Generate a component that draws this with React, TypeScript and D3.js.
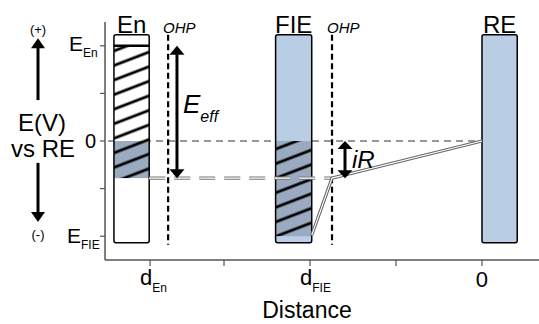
import React from "react";
import { scaleLinear, line } from "d3";

// axis ticks
const xTickValues = [-3.86, -3, -2, -1, 0];
const xTickMain = ["d", "", "d", "", "0"];
const xTickSub = ["En", "", "FIE", "", ""];
const yTickValues = [2, 1, 0, -1, -2];
const yTickMain = ["E", "", "0", "", "E"];
const yTickSub = ["En", "", "", "", "FIE"];

// electrodes (bars)
const electrodeNames = ["En", "FIE", "RE"];
const barLeft = [-4.28, -2.4, 0];
const barRight = [-3.87, -1.98, 0.41];
const barTop = 2.23;
const barBottom = -2.14;
const barFill = ["#ffffff", "#b9cde4", "#b9cde4"];

// charged (shaded) and hatched regions per electrode
const shadeTop = [0, 0];
const shadeBottom = [-0.78, -2];
const hatchTop = [2, 0];
const hatchBottom = [-0.78, -2];

// outer Helmholtz planes
const ohpX = [-3.65, -1.744];

// potential profile
const enLevel = -0.78;
const enLevelX = [-3.87, -1.744];
const profileX = [-1.98, -1.744, 0];
const profileY = [-1.98, -0.78, 0];

// annotations
const eeffX = -3.547;
const eeffRange = [2, -0.78];
const irX = -1.593;
const irRange = [0, -0.78];

const W = 539;
const H = 324;
const FONT = "'Liberation Sans', Arial, sans-serif";

const x = scaleLinear().domain([-4.384, 0.663]).range([105, 539]);
const y = scaleLinear().domain([-2.5, 2.5]).range([260, 22]);

function Arrow({ cx, y1, y2, head = 15, headH = 9, width = 3 }) {
  // double headed vertical arrow between two tips
  const dir = y2 > y1 ? 1 : -1;
  return (
    <g>
      <line
        x1={cx}
        x2={cx}
        y1={y1 + dir * (headH - 1)}
        y2={y2 - dir * (headH - 1)}
        stroke="#000"
        strokeWidth={width}
      />
      <polygon
        points={`${cx},${y1} ${cx - head / 2},${y1 + dir * headH} ${cx + head / 2},${y1 + dir * headH}`}
        fill="#000"
      />
      <polygon
        points={`${cx},${y2} ${cx - head / 2},${y2 - dir * headH} ${cx + head / 2},${y2 - dir * headH}`}
        fill="#000"
      />
    </g>
  );
}

function SingleArrow({ cx, from, to, head = 14, headH = 10, width = 3 }) {
  const dir = to > from ? 1 : -1;
  return (
    <g>
      <line x1={cx} x2={cx} y1={from} y2={to - dir * (headH - 1)} stroke="#000" strokeWidth={width} />
      <polygon
        points={`${cx},${to} ${cx - head / 2},${to - dir * headH} ${cx + head / 2},${to - dir * headH}`}
        fill="#000"
      />
    </g>
  );
}

export default function App() {
  const profileLine = line<number>()
    .x((d, i) => x(profileX[i]))
    .y((d) => y(d));
  const profilePath = profileLine(profileY) || "";
  const levelPath = `M${x(enLevelX[0])},${y(enLevel)}H${x(enLevelX[1])}`;

  return (
    <svg
      width={W}
      height={H}
      style={{ position: "absolute", left: 0, top: 0, background: "#fff" }}
      fontFamily={FONT}
    >
      <defs>
        <pattern
          id="hatch"
          patternUnits="userSpaceOnUse"
          width={8}
          height={13.6}
          patternTransform="rotate(-21)"
        >
          <line x1={0} x2={8} y1={6.8} y2={6.8} stroke="#000" strokeWidth={2.8} />
        </pattern>
        {hatchTop.map((t, i) => (
          <clipPath id={`clip${i}`} key={i}>
            <rect
              x={x(barLeft[i])}
              y={y(t)}
              width={x(barRight[i]) - x(barLeft[i])}
              height={y(hatchBottom[i]) - y(t)}
            />
          </clipPath>
        ))}
      </defs>

      {/* left annotation: E(V) vs RE */}
      <text x={38} y={34} fontSize={13} textAnchor="middle">(+)</text>
      <SingleArrow cx={38} from={y(0.86)} to={y(2.16)} />
      <text x={42} y={131} fontSize={24} textAnchor="middle">E(V)</text>
      <text x={43} y={157} fontSize={24} textAnchor="middle">vs RE</text>
      <SingleArrow cx={38} from={y(-0.46)} to={y(-1.7)} />
      <text x={38} y={239} fontSize={13} textAnchor="middle">(-)</text>

      {/* axes */}
      <line x1={105} x2={105} y1={22} y2={260} stroke="#555" strokeWidth={1.5} />
      <line x1={105} x2={539} y1={260} y2={260} stroke="#555" strokeWidth={1.5} />
      {yTickValues.map((v, i) => (
        <g key={`yt${i}`}>
          <line x1={100} x2={105} y1={y(v)} y2={y(v)} stroke="#555" strokeWidth={1.2} />
          {yTickMain[i] === "0" ? (
            <text x={96} y={y(v) + 7} fontSize={20} textAnchor="end">0</text>
          ) : yTickMain[i] ? (
            <text x={yTickSub[i] === "FIE" ? 67 : 69} y={y(v) + (yTickSub[i] === "FIE" ? 7 : 5)} fontSize={21}>
              {yTickMain[i]}
              <tspan fontSize={12} dy={6}>{yTickSub[i]}</tspan>
            </text>
          ) : null}
        </g>
      ))}
      {xTickValues.map((v, i) => (
        <g key={`xt${i}`}>
          <line x1={x(v)} x2={x(v)} y1={260} y2={266} stroke="#555" strokeWidth={1.2} />
          {xTickMain[i] === "0" ? (
            <text x={x(v)} y={287} fontSize={22} textAnchor="middle">0</text>
          ) : xTickMain[i] ? (
            <text x={x(v) - 10} y={285} fontSize={22}>
              {xTickMain[i]}
              <tspan fontSize={12} dy={7}>{xTickSub[i]}</tspan>
            </text>
          ) : null}
        </g>
      ))}
      <text x={307} y={318} fontSize={23} textAnchor="middle">Distance</text>

      {/* zero potential reference */}
      <line
        x1={108}
        x2={x(0.3)}
        y1={y(0)}
        y2={y(0)}
        stroke="#777"
        strokeWidth={1.5}
        strokeDasharray="7,5"
      />

      {/* electrodes */}
      {electrodeNames.map((name, i) => {
        const bx = x(barLeft[i]);
        const bw = x(barRight[i]) - bx;
        return (
          <g key={name}>
            <rect
              x={bx}
              y={y(barTop)}
              width={bw}
              height={y(barBottom) - y(barTop)}
              fill={barFill[i]}
            />
            {i < 2 && (
              <rect
                x={bx}
                y={y(shadeTop[i])}
                width={bw}
                height={y(shadeBottom[i]) - y(shadeTop[i])}
                fill="#9aabc1"
              />
            )}
            {i < 2 && (
              <rect
                x={bx}
                y={y(hatchTop[i])}
                width={bw}
                height={y(hatchBottom[i]) - y(hatchTop[i])}
                fill="url(#hatch)"
                clipPath={`url(#clip${i})`}
              />
            )}
            {i === 0 && (
              <line x1={bx} x2={bx + bw} y1={y(hatchTop[i])} y2={y(hatchTop[i])} stroke="#000" strokeWidth={2.6} />
            )}
            <rect
              x={bx}
              y={y(barTop)}
              width={bw}
              height={y(barBottom) - y(barTop)}
              fill="none"
              stroke="#000"
              strokeWidth={1.5}
              rx={2}
            />
            <text x={bx + bw / 2} y={33} fontSize={24} textAnchor="middle">
              {name}
            </text>
          </g>
        );
      })}

      {/* OHP planes */}
      {ohpX.map((v, i) => (
        <g key={`ohp${i}`}>
          <line
            x1={x(v)}
            x2={x(v)}
            y1={y(barTop)}
            y2={y(-2.18)}
            stroke="#000"
            strokeWidth={2.2}
            strokeDasharray="6,3.5"
          />
          <text x={x(v) - 5} y={33} fontSize={15} fontStyle="italic">OHP</text>
        </g>
      ))}

      {/* potential of En (dashed double line) */}
      <path d={levelPath} stroke="#777" strokeWidth={3.4} fill="none" strokeDasharray="16,9" />
      <path d={levelPath} stroke="#fff" strokeWidth={1.1} fill="none" strokeDasharray="16,9" />

      {/* potential profile (solid double line) */}
      <path d={profilePath} stroke="#666" strokeWidth={3.2} fill="none" strokeLinejoin="round" />
      <path d={profilePath} stroke="#fff" strokeWidth={1.1} fill="none" strokeLinejoin="round" />

      {/* Eeff arrow */}
      <Arrow cx={x(eeffX)} y1={y(eeffRange[0])} y2={y(eeffRange[1])} />
      <text x={x(eeffX) + 6} y={113} fontSize={26} fontStyle="italic">
        E<tspan fontSize={16} dy={9}>eff</tspan>
      </text>

      {/* iR arrow */}
      <Arrow cx={x(irX)} y1={y(irRange[0])} y2={y(irRange[1])} head={15} headH={8} />
      <text x={x(irX) + 7} y={168} fontSize={24} fontStyle="italic">iR</text>
    </svg>
  );
}
